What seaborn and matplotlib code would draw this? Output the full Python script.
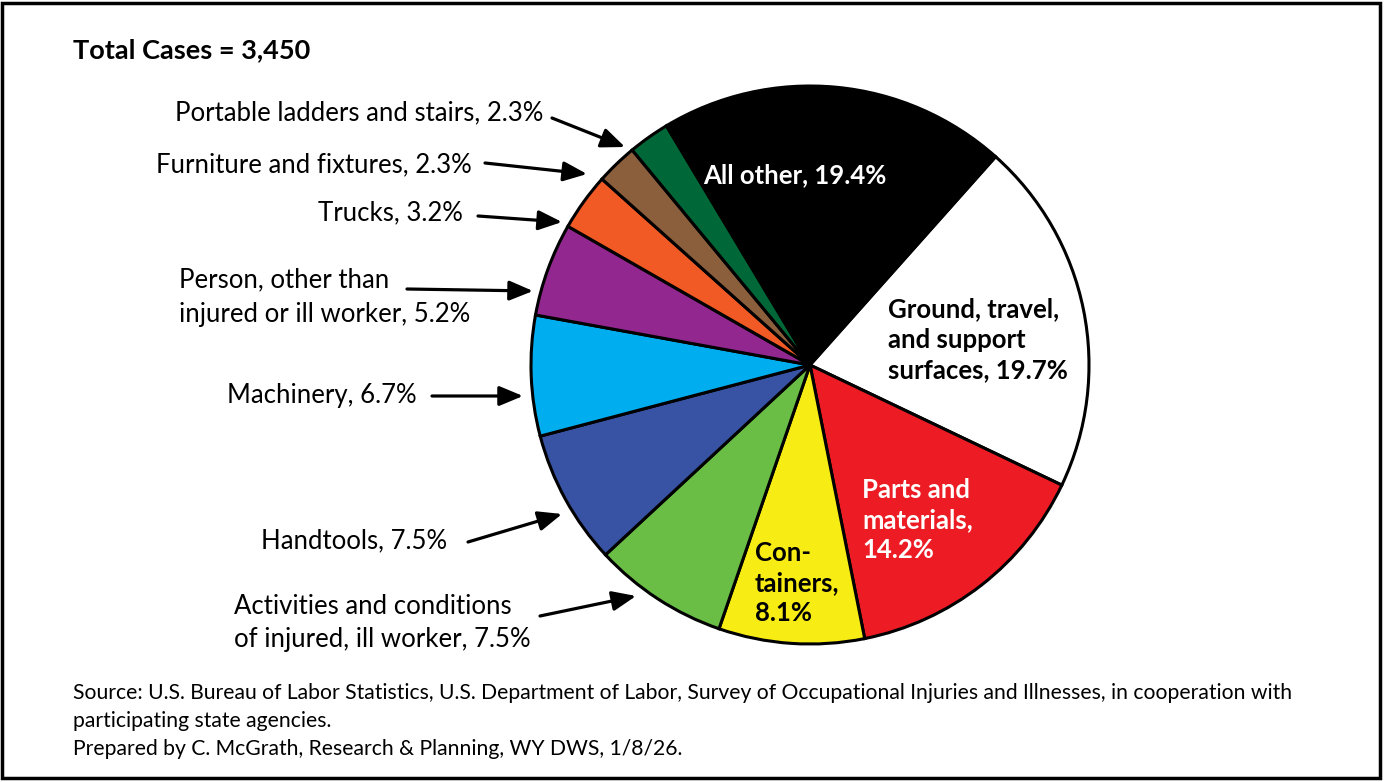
import numpy as np
import matplotlib
matplotlib.use("Agg")
import matplotlib.pyplot as plt
import seaborn as sns
from matplotlib.patches import Rectangle

# Data (clockwise from the top-right slice)
categories = ['Ground, travel, and support surfaces', 'Parts and materials', 'Containers',
              'Activities and conditions of injured, ill worker', 'Handtools', 'Machinery',
              'Person, other than injured or ill worker', 'Trucks', 'Furniture and fixtures',
              'Portable ladders and stairs', 'All other']
shares = [19.7, 14.2, 8.1, 7.5, 7.5, 6.7, 5.2, 3.2, 2.3, 2.3, 19.4]
colors = ['#FFFFFF', '#ED1C24', '#F7EC13', '#6ABD45', '#3853A4', '#00AEEF',
          '#92278F', '#F15A24', '#8B5E3C', '#006838', '#000000']
total_cases = 3450

sns.set_theme(style='white')
plt.rcParams['font.family'] = ['Lato', 'DejaVu Sans']
plt.rcParams['text.color'] = 'black'

W, H = 1384, 782
fig = plt.figure(figsize=(W / 100, H / 100), dpi=100)
ax = fig.add_axes([0, 0, 1, 1])

cx, cy, R = 810, H - 365, 279
wedges, _ = ax.pie(shares, colors=colors, startangle=48.3, counterclock=False,
                   center=(cx, cy), radius=R, frame=True,
                   wedgeprops=dict(edgecolor='black', linewidth=2.2))
ax.set_xlim(0, W)
ax.set_ylim(0, H)
ax.axis('off')

def py(y):
    return H - y

def label(i, pct):
    return f'{categories[i]}, {pct}%'

# outside labels: (slice index, text x, text y, ha, arrow start, arrow tip) in pixels
outside = [
    (9, 543, 113, 'right', (552, 118), (625, 147)),
    (8, 472, 165, 'right', (485, 163), (587, 174)),
    (7, 463, 213, 'right', (478, 216), (562, 222)),
    (6, 179, 297, 'left', (407, 289), (533, 291)),
    (5, 417, 396, 'right', (432, 396), (523, 396)),
    (4, 447, 541, 'right', (468, 542), (562, 514)),
    (3, 234, 623, 'left', (540, 616), (636, 596)),
]
breaks = {6: ('Person, other than', 'injured or ill worker'),
          3: ('Activities and conditions', 'of injured, ill worker')}
for idx, tx, ty, ha, start, tip in outside:
    txt = label(idx, shares[idx])
    ls = 1.4
    if idx in breaks:
        a, b = breaks[idx]
        txt = f'{a}\n{b}, {shares[idx]}%'
        ls = 1.5 if idx == 6 else 1.4
    ax.text(tx, py(ty), txt, ha=ha, va='center', fontsize=18.5, color='black',
            linespacing=ls)
    ax.annotate('', xy=(tip[0], py(tip[1])), xytext=(start[0], py(start[1])),
                arrowprops=dict(arrowstyle='-|>,head_length=1.2,head_width=0.5',
                                color='black', lw=2.3, shrinkA=0, shrinkB=0))

# inside labels
ax.text(703, py(175), f'All other, {shares[10]}%', ha='left', va='center', fontsize=18.5,
        fontweight='bold', color='white')
ax.text(888, py(340), f'Ground, travel,\nand support\nsurfaces, {shares[0]}%', ha='left',
        va='center', fontsize=18.5, fontweight='bold', color='black', linespacing=1.32)
ax.text(862, py(520), f'Parts and\nmaterials,\n{shares[1]}%', ha='left', va='center',
        fontsize=18.5, fontweight='bold', color='white', linespacing=1.32)
ax.text(755, py(583), f'Con-\ntainers,\n{shares[2]}%', ha='left', va='center', fontsize=18.5,
        fontweight='bold', color='black', linespacing=1.32)

ax.text(73, py(50), f'Total Cases = {total_cases:,}', ha='left', va='center',
        fontsize=19.5, fontweight='bold', color='black')

source = ('Source: U.S. Bureau of Labor Statistics, U.S. Department of Labor, Survey of '
          'Occupational Injuries and Illnesses, in cooperation with\nparticipating state agencies.\n'
          'Prepared by C. McGrath, Research & Planning, WY DWS, 1/8/26.')
ax.text(73, py(721), source, ha='left', va='center', fontsize=15.2, linespacing=1.5,
        color='black')

fig.patches.append(Rectangle((2 / W, 4 / H), 1 - 6 / W, 1 - 7 / H, transform=fig.transFigure,
                             fill=False, edgecolor='black', linewidth=2.5))

fig.savefig('out.png', dpi=100)
